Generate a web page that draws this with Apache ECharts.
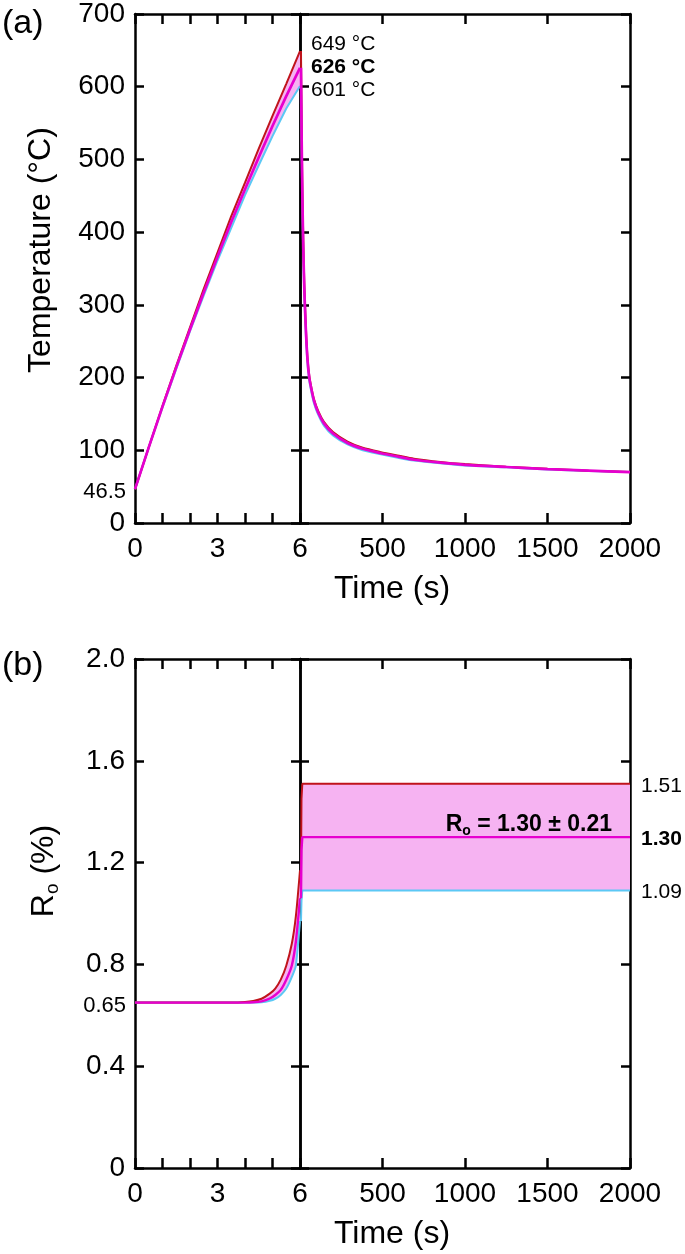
<!DOCTYPE html>
<html>
<head>
<meta charset="utf-8">
<script src="https://cdn.jsdelivr.net/npm/echarts@6/dist/echarts.min.js"></script>
<style>html,body{margin:0;padding:0;background:#fff}#c{width:685px;height:1254px}</style>
</head>
<body>
<div id="c"></div>
<script>
// ---------- data ----------
const tHeat = [0, 0.5, 1, 1.5, 2, 2.5, 3, 3.5, 4, 4.5, 5, 5.5, 6];
const tempHeatHigh = [46.5, 104, 161, 216, 269, 322, 372, 422, 468, 515, 560, 604, 649];
const tempHeatMid  = [46.5, 104, 160, 214, 266, 317, 366, 414, 459, 503, 546, 587, 626];
const tempHeatLow  = [46.5, 104, 159, 212, 264, 313, 361, 406, 451, 492, 532, 570, 601];

const tCool = [6, 7, 8, 10, 12, 15, 20, 26, 35, 45, 56, 70, 85, 110, 145, 200, 288, 380, 490, 600, 690, 850, 1000, 1250, 1500, 1750, 2000];
const tempCoolHigh = [649, 621, 596, 548, 505, 452, 387, 330, 273, 229, 203, 185, 170, 154, 139, 125, 112, 103.5, 97.5, 92.5, 88.5, 84, 81, 77.5, 74.5, 72, 70];
const tempCoolMid  = [626, 600, 576, 530, 490, 440, 378, 323, 268, 226, 200, 183, 168, 152, 137, 123, 110, 102, 96, 91, 87, 83, 80, 77, 74, 72, 70];
const tempCoolLow  = [601, 577, 555, 511, 474, 427, 368, 315, 262, 221, 196, 179, 164.5, 149, 134, 120.5, 108, 100, 94.5, 89.5, 86, 82, 79, 76.5, 73.5, 71.5, 70];

const tRoHeat = [0, 1, 2, 3, 3.5, 4, 4.3, 4.6, 4.9, 5.1, 5.3, 5.5, 5.7, 5.85, 6];
const roHeatHigh = [0.65, 0.65, 0.65, 0.65, 0.65, 0.652, 0.656, 0.665, 0.685, 0.705, 0.74, 0.795, 0.88, 0.99, 1.17];
const roHeatMid  = [0.65, 0.65, 0.65, 0.65, 0.65, 0.65, 0.651, 0.655, 0.666, 0.68, 0.70, 0.74, 0.795, 0.89, 1.06];
const roHeatLow  = [0.65, 0.65, 0.65, 0.65, 0.65, 0.65, 0.65, 0.651, 0.657, 0.665, 0.68, 0.705, 0.75, 0.795, 0.97];

const tRoCool = [6, 9, 14, 2000];
const roCoolHigh = [1.17, 1.45, 1.51, 1.51];
const roCoolMid  = [1.06, 1.25, 1.30, 1.30];
const roCoolLow  = [0.97, 1.05, 1.09, 1.09];

const heatTicks = [0, 3, 6];
const coolTickLabels = [500, 1000, 1500, 2000];

// ---------- style ----------
const FONT = '"Liberation Sans", Arial, Helvetica, sans-serif';
const RED = '#c0141c', MAG = '#e600cf', BLUE = '#5bc8f5', PINK = '#f6b3f2';
const AX_W = 2.5;

const axisLine = { show: true, onZero: false, lineStyle: { color: '#000', width: AX_W } };
const tick = len => ({ show: true, inside: true, length: len, lineStyle: { color: '#000', width: AX_W } });
const lbl = (show, formatter, margin) => ({ show, formatter, color: '#000', fontSize: 28, fontFamily: FONT, margin });

const grids = [
  { left: 135, top: 14, width: 165, height: 509 },
  { left: 300, top: 14, width: 330, height: 509 },
  { left: 135, top: 659, width: 165, height: 509 },
  { left: 300, top: 659, width: 330, height: 509 }
];

function xPair(gi, heat) {
  const base = heat
    ? { min: 0, max: 6, interval: 1 }
    : { min: 0, max: 2000, interval: 500 };
  const fmt = heat
    ? v => (heatTicks.indexOf(v) >= 0 ? String(v) : '')
    : v => (coolTickLabels.indexOf(v) >= 0 ? String(v) : '');
  return [
    Object.assign({ type: 'value', gridIndex: gi, position: 'bottom', axisLine, axisTick: tick(10), axisLabel: lbl(true, fmt, 12), splitLine: { show: false } }, base),
    Object.assign({ type: 'value', gridIndex: gi, position: 'top', axisLine, axisTick: tick(10), axisLabel: { show: false }, splitLine: { show: false } }, base)
  ];
}
function yPair(gi, temp, showLabels) {
  const base = temp ? { min: 0, max: 700, interval: 100 } : { min: 0, max: 2, interval: 0.4 };
  const fmt = temp ? v => String(v) : v => (v === 0 ? '0' : v.toFixed(1));
  return [
    Object.assign({ type: 'value', gridIndex: gi, position: 'left', axisLine, axisTick: tick(9), axisLabel: lbl(showLabels, fmt, 10), splitLine: { show: false } }, base),
    Object.assign({ type: 'value', gridIndex: gi, position: 'right', axisLine, axisTick: tick(9), axisLabel: { show: false }, splitLine: { show: false } }, base)
  ];
}

const xAxis = [].concat(xPair(0, true), xPair(1, false), xPair(2, true), xPair(3, false));
const yAxis = [].concat(yPair(0, true, true), yPair(1, true, false), yPair(2, false, true), yPair(3, false, false));

function zip(t, v) { return t.map((x, i) => [x, v[i]]); }

function band(ax, t, lo, hi) {
  return {
    type: 'custom', xAxisIndex: ax, yAxisIndex: ax, z: 1, silent: true, clip: true,
    data: t.map((x, i) => [x, lo[i], hi[i]]),
    encode: { x: 0, y: 1 },
    renderItem: function (params, api) {
      if (params.dataIndex !== 0) return null;
      const top = t.map((x, i) => api.coord([x, hi[i]]));
      const bot = t.map((x, i) => api.coord([x, lo[i]])).reverse();
      return { type: 'polygon', shape: { points: top.concat(bot) }, style: { fill: PINK } };
    }
  };
}
function line(ax, t, v, color, width, smooth, endLabel) {
  const s = {
    type: 'line', xAxisIndex: ax, yAxisIndex: ax, z: 3, data: zip(t, v),
    showSymbol: false, symbol: 'none', smooth: smooth || false,
    animation: false, silent: true,
    lineStyle: { color, width }
  };
  if (endLabel) s.endLabel = endLabel;
  return s;
}
const endLbl = (bold) => ({
  show: true, distance: 11, offset: [0, 2],
  formatter: p => p.value[1].toFixed(2),
  color: '#000', fontSize: 21, fontFamily: FONT, fontWeight: bold ? 'bold' : 'normal'
});

const series = [
  band(0, tHeat, tempHeatLow, tempHeatHigh),
  line(0, tHeat, tempHeatLow, BLUE, 2),
  line(0, tHeat, tempHeatHigh, RED, 2),
  line(0, tHeat, tempHeatMid, MAG, 2.7),

  band(2, tCool, tempCoolLow, tempCoolHigh),
  line(2, tCool, tempCoolLow, BLUE, 2, 0.25),
  line(2, tCool, tempCoolHigh, RED, 2, 0.25),
  line(2, tCool, tempCoolMid, MAG, 2.7, 0.25),

  band(4, tRoHeat, roHeatLow, roHeatHigh),
  line(4, tRoHeat, roHeatLow, BLUE, 2, 0.25),
  line(4, tRoHeat, roHeatHigh, RED, 2, 0.25),
  line(4, tRoHeat, roHeatMid, MAG, 2.4, 0.25),

  band(6, tRoCool, roCoolLow, roCoolHigh),
  line(6, tRoCool, roCoolLow, BLUE, 2, false, endLbl(false)),
  line(6, tRoCool, roCoolHigh, RED, 2, false, endLbl(false)),
  line(6, tRoCool, roCoolMid, MAG, 2.4, false, endLbl(true))
];

const txt = (x, y, text, o) => ({
  type: 'text', x, y, z: 100, silent: true,
  rotation: (o && o.rot) || 0,
  style: Object.assign({
    text, fill: '#000', fontFamily: FONT, fontSize: 21,
    align: 'left', verticalAlign: 'middle'
  }, o && o.style)
});

const graphic = [
  txt(2, 24, '(a)', { style: { fontSize: 34 } }),
  txt(2, 666, '(b)', { style: { fontSize: 34 } }),
  txt(41, 250, 'Temperature (°C)', { rot: Math.PI / 2, style: { fontSize: 32, align: 'center' } }),
  txt(44, 871, '{r|R}{s|o}{r| (%)}', { rot: Math.PI / 2, style: {
    align: 'center',
    rich: { r: { fontSize: 32, fontFamily: FONT, lineHeight: 36 }, s: { fontSize: 19, fontFamily: FONT, lineHeight: 19, verticalAlign: 'bottom' } }
  } }),
  txt(392, 589, 'Time (s)', { style: { fontSize: 32, align: 'center' } }),
  txt(392, 1234, 'Time (s)', { style: { fontSize: 32, align: 'center' } }),
  txt(126, 492, '46.5', { style: { fontSize: 22, align: 'right' } }),
  txt(126, 1006, '0.65', { style: { fontSize: 22, align: 'right' } }),
  txt(311, 44, '649 °C'),
  txt(311, 67, '626 °C', { style: { fontWeight: 'bold' } }),
  txt(311, 90, '601 °C'),
  txt(612, 825, '{b|R}{bs|o}{b| = 1.30 ± 0.21}', { style: {
    align: 'right',
    rich: { b: { fontSize: 23, fontWeight: 'bold', fontFamily: FONT, lineHeight: 26 }, bs: { fontSize: 14, fontWeight: 'bold', fontFamily: FONT, lineHeight: 14, verticalAlign: 'bottom' } }
  } })
];

const chart = echarts.init(document.getElementById('c'), null, { renderer: 'canvas' });
chart.setOption({
  animation: false,
  backgroundColor: '#fff',
  grid: grids,
  xAxis, yAxis, series, graphic
});
</script>
</body>
</html>
